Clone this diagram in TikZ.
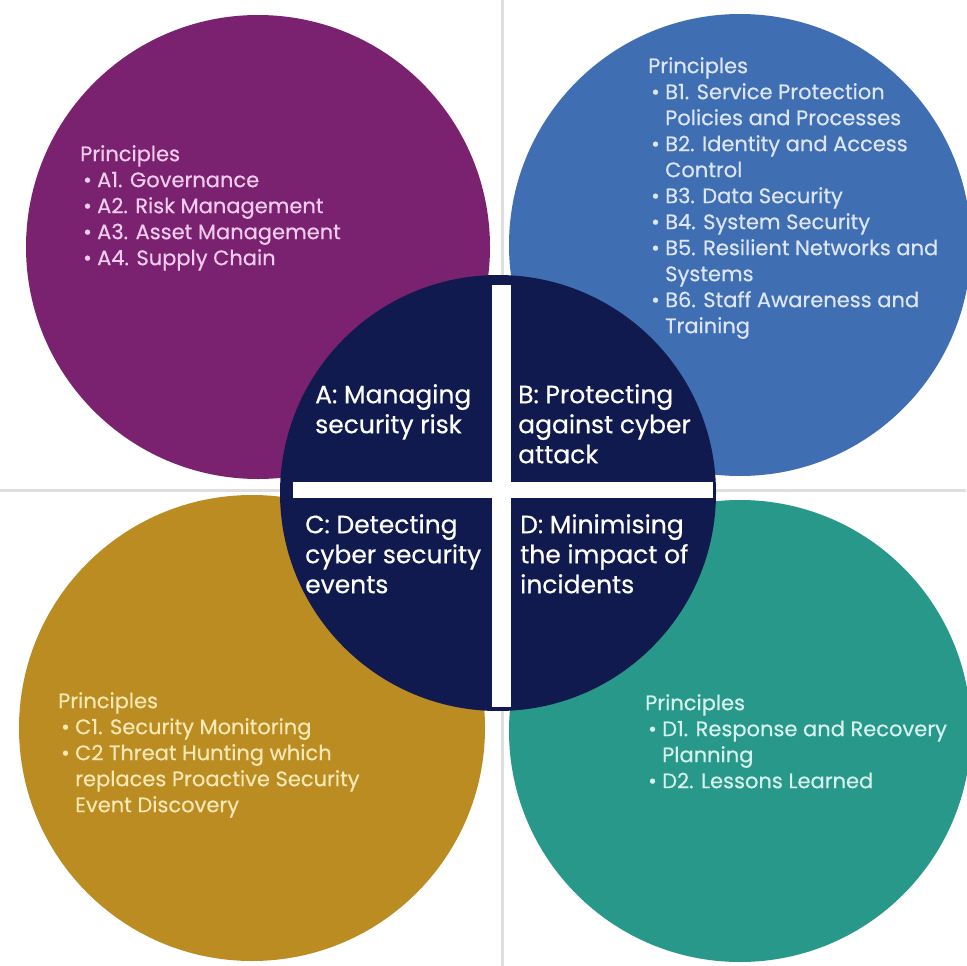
\documentclass[tikz,border=0pt]{standalone}
\usepackage{fontspec}
\setmainfont{Poppins}[FakeBold=0.5]
\usetikzlibrary{positioning}
\definecolor{caPurple}{RGB}{122,34,112}
\definecolor{caBlue}{RGB}{64,110,178}
\definecolor{caGold}{RGB}{186,140,34}
\definecolor{caTeal}{RGB}{40,152,138}
\definecolor{caNavy}{RGB}{16,26,78}
\definecolor{caPurpleText}{RGB}{240,204,236}
\definecolor{caBlueText}{RGB}{220,230,246}
\definecolor{caGoldText}{RGB}{248,232,180}
\definecolor{caTealText}{RGB}{214,242,238}
\definecolor{caGrid}{RGB}{222,222,222}
\newcommand{\bulletitem}{\makebox[17pt][l]{\hspace{3pt}\textbullet}}
\newcommand{\wrapline}{\hspace*{17pt}}
\tikzset{
    petal/.style={circle, inner sep=0pt, minimum size=#1},
    principles/.style={anchor=north west, inner sep=0pt, align=left, font=\fontsize{21}{26}\selectfont},
    objective/.style={anchor=north west, inner sep=0pt, align=left, text=white, font=\fontsize{25}{30}\selectfont},
    gridline/.style={caGrid, line width=3pt}
}
\begin{document}
\begin{tikzpicture}[x=1pt,y=-1pt]
\useasboundingbox (0,0) rectangle (966,966);
\fill[white] (0,0) rectangle (966,966);
\draw[gridline] (0,490) -- (966,490);
\draw[gridline] (502,0) -- (502,966);
\node[petal=464pt, fill=caPurple] (A) at (258,247) {};
\node[petal=462pt, fill=caBlue] (B) at (740,245) {};
\node[petal=466pt, fill=caGold] (C) at (252,728) {};
\node[petal=462pt, fill=caTeal] (D) at (740,731) {};
\node[petal=436pt, fill=caNavy] (hub) at (498,493) {};
\fill[white] (492,285) rectangle (511,707);
\fill[white] (293,482) rectangle (713,498);
\node[principles, text=caPurpleText] (listA) at (80,145) {Principles\\
\bulletitem A1. Governance\\
\bulletitem A2. Risk Management\\
\bulletitem A3. Asset Management\\
\bulletitem A4. Supply Chain};
\node[principles, text=caBlueText] (listB) at (648,57) {Principles\\
\bulletitem B1. Service Protection\\
\wrapline Policies and Processes\\
\bulletitem B2. Identity and Access\\
\wrapline Control\\
\bulletitem B3. Data Security\\
\bulletitem B4. System Security\\
\bulletitem B5. Resilient Networks and\\
\wrapline Systems\\
\bulletitem B6. Staff Awareness and\\
\wrapline Training};
\node[principles, text=caGoldText] (listC) at (58,692) {Principles\\
\bulletitem C1. Security Monitoring\\
\bulletitem C2 Threat Hunting which\\
\wrapline replaces Proactive Security\\
\wrapline Event Discovery};
\node[principles, text=caTealText] (listD) at (645,694) {Principles\\
\bulletitem D1. Response and Recovery\\
\wrapline Planning\\
\bulletitem D2. Lessons Learned};
\node[objective] (objA) at (315,384) {A: Managing\\security risk};
\node[objective] (objB) at (518,384) {B: Protecting\\against cyber\\attack};
\node[objective] (objC) at (305,514) {C: Detecting\\cyber security\\events};
\node[objective] (objD) at (520,514) {D: Minimising\\the impact of\\incidents};
\end{tikzpicture}
\end{document}
